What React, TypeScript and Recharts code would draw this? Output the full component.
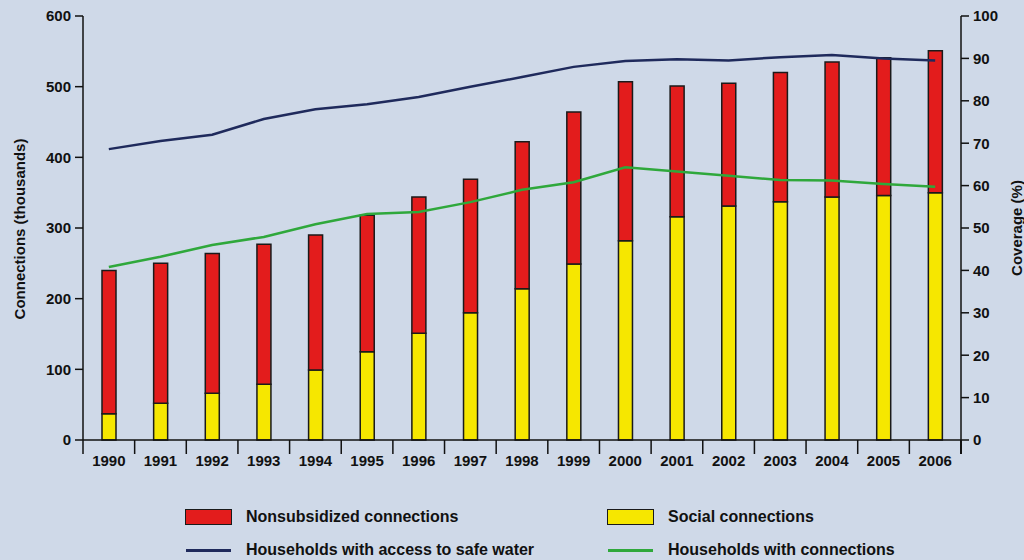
import { Bar, ComposedChart, Line, XAxis, YAxis } from 'recharts';

const years = ['1990', '1991', '1992', '1993', '1994', '1995', '1996', '1997', '1998', '1999', '2000', '2001', '2002', '2003', '2004', '2005', '2006'];
const socialConnections = [37, 52, 66, 79, 99, 125, 151, 180, 214, 249, 282, 316, 331, 337, 344, 346, 350];
const nonsubsidizedConnections = [203, 198, 198, 198, 191, 193, 193, 189, 208, 215, 225, 185, 174, 183, 191, 195, 201];
const accessCoverage = [68.6, 70.5, 72, 75.7, 78, 79.2, 80.9, 83.3, 85.6, 88, 89.4, 89.8, 89.5, 90.3, 90.8, 90.0, 89.5];
const connectionCoverage = [40.8, 43.2, 46, 47.9, 50.9, 53.3, 53.8, 56.1, 59, 60.8, 64.3, 63.3, 62.3, 61.3, 61.2, 60.4, 59.7];
const leftTicks = [0, 100, 200, 300, 400, 500, 600];
const rightTicks = [0, 10, 20, 30, 40, 50, 60, 70, 80, 90, 100];

const data = years.map((year, i) => ({
  year,
  social: socialConnections[i],
  nonsubsidized: nonsubsidizedConnections[i],
  access: accessCoverage[i],
  connections: connectionCoverage[i],
}));

const FONT = '"Liberation Sans", Arial, Helvetica, sans-serif';
const RED = '#e31c1c';
const YELLOW = '#f6e700';
const NAVY = '#1f2a5c';
const GREEN = '#2fa83b';
const BG = '#cfd9e8';

function YearTick(props: any) {
  const { x, y, payload, index } = props;
  const half = payload?.offset && payload.offset > 0 ? payload.offset : (961 - 83) / years.length / 2;
  return (
    <g>
      <line x1={x - half} x2={x - half} y1={y} y2={y + 14} stroke="#111" strokeWidth={1.5} />
      {index === years.length - 1 && (
        <line x1={x + half} x2={x + half} y1={y} y2={y + 14} stroke="#111" strokeWidth={1.5} />
      )}
      <text x={x} y={y + 26} textAnchor="middle" fontFamily={FONT} fontWeight="bold" fontSize={15} fill="#111">
        {payload.value}
      </text>
    </g>
  );
}

function LegendItem({ left, top, kind, color, label }: { left: number; top: number; kind: 'box' | 'line'; color: string; label: string }) {
  return (
    <div style={{ position: 'absolute', left, top, display: 'flex', alignItems: 'center', height: 18 }}>
      {kind === 'box' ? (
        <div style={{ width: 45, height: 14, background: color, border: '1.5px solid #1a1a1a' }} />
      ) : (
        <div style={{ width: 45, height: 3, background: color, margin: '0 1px' }} />
      )}
      <span style={{ marginLeft: 14, fontFamily: FONT, fontWeight: 'bold', fontSize: 16, color: '#111' }}>{label}</span>
    </div>
  );
}

export default function App() {
  const tickStyle = { fontFamily: FONT, fontWeight: 'bold', fontSize: 15, fill: '#111' };
  return (
    <div style={{ position: 'absolute', left: 0, top: 0, width: 1024, height: 560, background: BG, overflow: 'hidden' }}>
      <ComposedChart width={1024} height={560} data={data} margin={{ top: 16, right: 8, bottom: 90, left: 8 }}>
        <XAxis
          dataKey="year"
          xAxisId="x"
          height={30}
          tickLine={false}
          tickSize={0}
          tickMargin={0}
          interval={0}
          axisLine={{ stroke: '#111', strokeWidth: 1.5 }}
          tick={<YearTick />}
        />
        <YAxis
          yAxisId="left"
          width={75}
          domain={[0, 600]}
          ticks={leftTicks}
          tickSize={8}
          tickMargin={4}
          axisLine={{ stroke: '#111', strokeWidth: 1.5 }}
          tickLine={{ stroke: '#111', strokeWidth: 1.5 }}
          tick={tickStyle}
        />
        <YAxis
          yAxisId="right"
          orientation="right"
          width={55}
          domain={[0, 100]}
          ticks={rightTicks}
          tickSize={8}
          tickMargin={4}
          axisLine={{ stroke: '#111', strokeWidth: 1.5 }}
          tickLine={{ stroke: '#111', strokeWidth: 1.5 }}
          tick={tickStyle}
        />
        <Bar xAxisId="x" yAxisId="left" dataKey="social" stackId="c" barSize={14} fill={YELLOW} stroke="#1a1a1a" strokeWidth={1.5} isAnimationActive={false} />
        <Bar xAxisId="x" yAxisId="left" dataKey="nonsubsidized" stackId="c" barSize={14} fill={RED} stroke="#1a1a1a" strokeWidth={1.5} isAnimationActive={false} />
        <Line xAxisId="x" yAxisId="right" type="linear" dataKey="access" stroke={NAVY} strokeWidth={2.5} dot={false} isAnimationActive={false} />
        <Line xAxisId="x" yAxisId="right" type="linear" dataKey="connections" stroke={GREEN} strokeWidth={2.5} dot={false} isAnimationActive={false} />
      </ComposedChart>

      {/* the axis line on the right runs a bit below the x axis, like the ticks */}
      <div style={{ position: 'absolute', left: 960, top: 440, width: 1.5, height: 14, background: '#111' }} />

      <div
        style={{
          position: 'absolute', left: 19, top: 229, transform: 'translate(-50%, -50%) rotate(-90deg)',
          whiteSpace: 'nowrap', fontFamily: FONT, fontWeight: 'bold', fontSize: 15, color: '#111',
        }}
      >
        Connections (thousands)
      </div>
      <div
        style={{
          position: 'absolute', left: 1016, top: 228, transform: 'translate(-50%, -50%) rotate(-90deg)',
          whiteSpace: 'nowrap', fontFamily: FONT, fontWeight: 'bold', fontSize: 15, color: '#111',
        }}
      >
        Coverage (%)
      </div>

      <LegendItem left={185} top={508} kind="box" color={RED} label="Nonsubsidized connections" />
      <LegendItem left={607} top={508} kind="box" color={YELLOW} label="Social connections" />
      <LegendItem left={185} top={541} kind="line" color={NAVY} label="Households with access to safe water" />
      <LegendItem left={607} top={541} kind="line" color={GREEN} label="Households with connections" />
    </div>
  );
}
